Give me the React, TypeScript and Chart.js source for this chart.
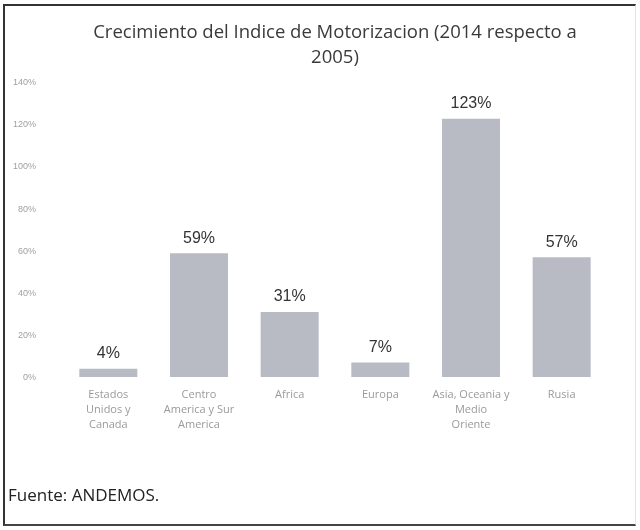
import React, { useEffect, useRef } from "react";
import { Chart, registerables } from "chart.js";

Chart.register(...registerables);

const titleLines = ["Crecimiento del Indice de Motorizacion (2014 respecto a", "2005)"];
const categories: (string | string[])[] = [
  ["Estados", "Unidos y", "Canada"],
  ["Centro", "America y Sur", "America"],
  "Africa",
  "Europa",
  ["Asia, Oceania y", "Medio", "Oriente"],
  "Rusia",
];
const values = [4, 59, 31, 7, 123, 57];
const yMax = 140;
const yStep = 20;
const sourceText = "Fuente: ANDEMOS.";

const valueLabels = {
  id: "valueLabels",
  afterDatasetsDraw(chart: any) {
    const { ctx } = chart;
    const meta = chart.getDatasetMeta(0);
    ctx.save();
    ctx.font = "16px 'Liberation Sans', sans-serif";
    ctx.fillStyle = "#333";
    ctx.textAlign = "center";
    ctx.textBaseline = "bottom";
    meta.data.forEach((bar: any, i: number) => {
      ctx.fillText(values[i] + "%", bar.x, bar.y - 7);
    });
    ctx.restore();
  },
};

export default function App() {
  const ref = useRef<HTMLCanvasElement | null>(null);
  useEffect(() => {
    if (!ref.current) return;
    const chart = new Chart(ref.current, {
      type: "bar",
      data: {
        labels: categories,
        datasets: [
          {
            data: values,
            backgroundColor: "#b9bbc4",
            borderWidth: 0,
            categoryPercentage: 1,
            barPercentage: 0.64,
          },
        ],
      },
      options: {
        animation: false,
        responsive: false,
        layout: { padding: { left: 0, right: 33, top: 8, bottom: 88 } },
        plugins: {
          legend: { display: false },
          tooltip: { enabled: false },
          title: {
            display: true,
            fullSize: false,
            text: titleLines,
            color: "#3a3a3a",
            font: { family: "'Open Sans', sans-serif", size: 18.5, weight: "normal", lineHeight: 1.35 },
            padding: { top: 12, bottom: 13 },
          },
        },
        scales: {
          x: {
            grid: { display: false, drawTicks: false },
            border: { display: false },
            ticks: {
              color: "#9a9a9a",
              font: { family: "'Open Sans', sans-serif", size: 11, lineHeight: 1.36 },
              padding: 10,
              maxRotation: 0,
              autoSkip: false,
            },
          },
          y: {
            min: 0,
            max: yMax,
            grid: { display: false, drawTicks: false },
            border: { display: false },
            ticks: {
              stepSize: yStep,
              color: "#a0a0a0",
              font: { family: "'Liberation Sans', sans-serif", size: 9 },
              padding: 27,
              callback: (v: any) => v + "%",
            },
            afterFit: (scale: any) => {
              scale.width = 63;
            },
          },
        },
      },
      plugins: [valueLabels],
    });
    return () => chart.destroy();
  }, []);

  return (
    <div
      style={{
        position: "absolute",
        left: 0,
        top: 0,
        width: 640,
        height: 530,
        background: "#fff",
        overflow: "hidden",
      }}
    >
      <div
        style={{
          position: "absolute",
          left: 3,
          top: 4,
          width: 630,
          height: 518,
          borderLeft: "2px solid #333",
          borderTop: "2px solid #333",
          borderBottom: "2px solid #444",
          borderRight: "1px solid #e4e4e4",
        }}
      />
      <canvas ref={ref} width={640} height={530} style={{ position: "absolute", left: 0, top: 0 }} />
      <div
        style={{
          position: "absolute",
          left: 8,
          top: 483,
          fontFamily: "'Open Sans', sans-serif",
          fontSize: 17,
          color: "#222",
          lineHeight: "24px",
        }}
      >
        {sourceText}
      </div>
    </div>
  );
}
